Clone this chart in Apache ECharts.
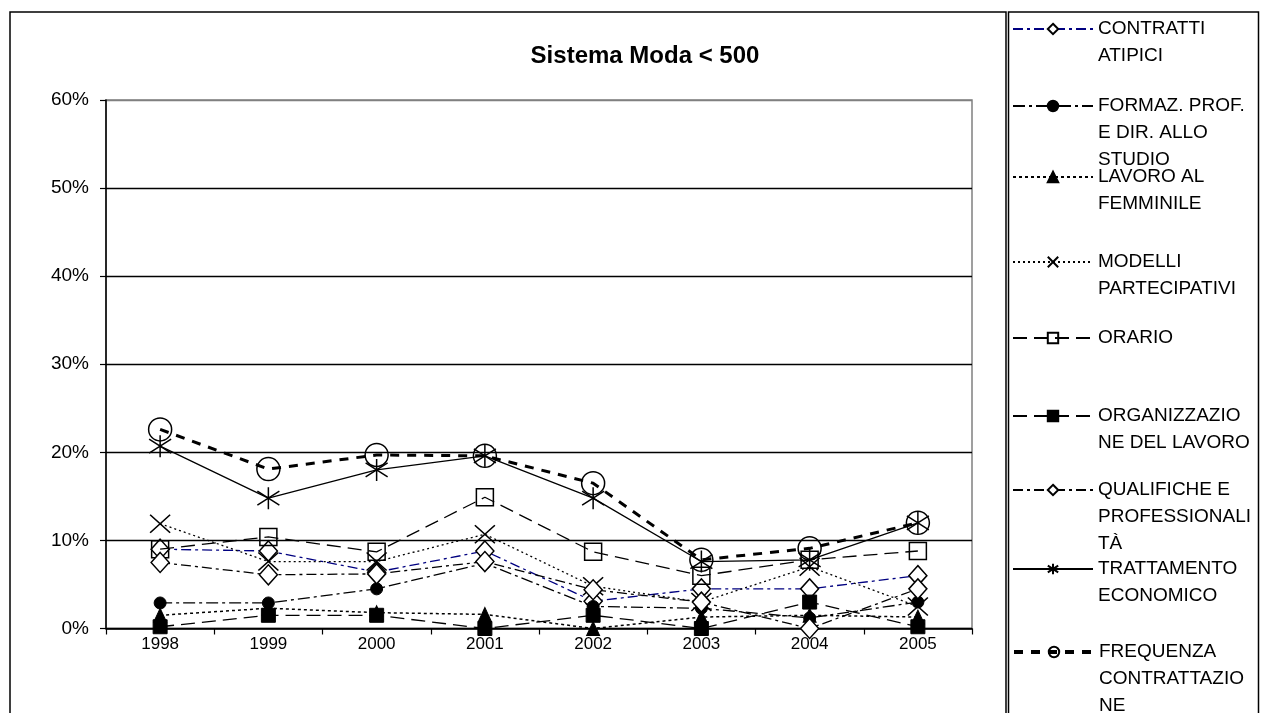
<!DOCTYPE html>
<html><head><meta charset="utf-8">
<script src="https://cdn.jsdelivr.net/npm/echarts@6/dist/echarts.min.js"></script>
<style>html,body{margin:0;padding:0;background:#fff}#c{width:1262px;height:713px}</style>
</head><body><div id="c"></div>
<script>
// ---- data (percent values) ----
const years = ['1998', '1999', '2000', '2001', '2002', '2003', '2004', '2005'];
const yTickValues = [0, 10, 20, 30, 40, 50, 60];
const contrattiAtipici = [9.0, 8.8, 6.4, 8.8, 3.1, 4.5, 4.5, 6.0];
const formazProf = [2.9, 2.9, 4.5, 7.4, 2.5, 2.3, 1.2, 3.0];
const lavoroFemminile = [1.5, 2.3, 1.8, 1.6, 0.0, 1.3, 1.5, 1.3];
const modelliPartecipativi = [11.9, 7.6, 7.6, 10.7, 4.8, 3.0, 7.0, 2.5];
const orario = [9.0, 10.4, 8.7, 14.9, 8.7, 6.0, 7.8, 8.8];
const organizzazioneLavoro = [0.2, 1.5, 1.5, 0.0, 1.5, 0.0, 3.0, 0.2];
const qualifiche = [7.5, 6.1, 6.2, 7.6, 4.4, 3.0, 0.0, 4.5];
const trattamentoEconomico = [20.7, 14.8, 18.0, 19.6, 14.8, 7.6, 7.8, 12.0];
const frequenzaContrattazione = [22.6, 18.1, 19.7, 19.6, 16.5, 7.8, 9.1, 12.0];
const seriesNames = ['CONTRATTI ATIPICI', 'FORMAZ. PROF. E DIR. ALLO STUDIO', 'LAVORO AL FEMMINILE',
  'MODELLI PARTECIPATIVI', 'ORARIO', 'ORGANIZZAZIONE DEL LAVORO', 'QUALIFICHE E PROFESSIONALITÀ',
  'TRATTAMENTO ECONOMICO', 'FREQUENZA CONTRATTAZIONE'];
const legendLabels = [
  ['CONTRATTI', 'ATIPICI'],
  ['FORMAZ. PROF.', 'E DIR. ALLO', 'STUDIO'],
  ['LAVORO AL', 'FEMMINILE'],
  ['MODELLI', 'PARTECIPATIVI'],
  ['ORARIO'],
  ['ORGANIZZAZIO', 'NE DEL LAVORO'],
  ['QUALIFICHE E', 'PROFESSIONALI', 'TÀ'],
  ['TRATTAMENTO', 'ECONOMICO'],
  ['FREQUENZA', 'CONTRATTAZIO', 'NE']
];
const titleText = 'Sistema Moda < 500';

// ---- styles ----
const FONT = 'Arial, "Liberation Sans", sans-serif';
const BLACK = '#000';
const T = 'rgba(0,0,0,0)';
const X_PATH = 'path://M0,0L20,18M0,18L20,0';
const STAR_PATH = 'path://M11,0L11,22M0,4L22,18M0,18L22,4';
const styles = [
  {data: contrattiAtipici, color: '#000080', type: [10,4,3,4], width: 1.3, symbol: 'diamond', size: [18,20], fill: '#fff', bw: 1.5},
  {data: formazProf, color: BLACK, type: [12,4,3,4], width: 1.3, symbol: 'circle', size: 12, fill: BLACK, bw: 1},
  {data: lavoroFemminile, color: BLACK, type: [3,3], width: 1.5, symbol: 'triangle', size: [13,14], fill: BLACK, bw: 1},
  {data: modelliPartecipativi, color: BLACK, type: [2,3], width: 1.3, symbol: X_PATH, size: [20,18], fill: BLACK, bw: 1.5},
  {data: orario, color: BLACK, type: [14,7], width: 1.3, symbol: 'rect', size: 17, fill: T, bw: 1.5},
  {data: organizzazioneLavoro, color: BLACK, type: [14,7], width: 1.3, symbol: 'rect', size: 14, fill: BLACK, bw: 1},
  {data: qualifiche, color: BLACK, type: [10,4,3,4], width: 1.3, symbol: 'diamond', size: [18,20], fill: '#fff', bw: 1.5},
  {data: trattamentoEconomico, color: BLACK, type: 'solid', width: 1.3, symbol: STAR_PATH, size: [22,22], fill: BLACK, bw: 1.5},
  {data: frequenzaContrattazione, color: BLACK, type: [9,8], width: 3, symbol: 'circle', size: 23, fill: T, bw: 1.5}
];

const series = styles.map((s, i) => ({
  name: seriesNames[i],
  type: 'line',
  data: s.data,
  symbol: s.symbol,
  symbolSize: s.size,
  showAllSymbol: true,
  lineStyle: {color: s.color, width: s.width, type: s.type},
  itemStyle: {color: s.fill, borderColor: BLACK, borderWidth: s.bw},
  emphasis: {disabled: true},
  z: 2 + i
}));

const LH = 27;
const iconCenters = [29, 106, 177, 262, 338, 416, 490, 569, 652];
const ITEM_H = 13;
const legends = legendLabels.map((lines, i) => {
  const n = lines.length;
  return {
    data: [seriesNames[i]],
    orient: 'vertical',
    left: 1012,
    top: iconCenters[i] - (2 * n - 1) * LH / 2,
    padding: 0,
    itemWidth: 80,
    itemHeight: ITEM_H,
    selectedMode: false,
    formatter: () => '\n'.repeat(n - 1) + lines.join('\n'),
    lineStyle: {width: i === 8 ? 4 : 2},
    textStyle: {fontFamily: FONT, fontSize: 19, color: BLACK, lineHeight: LH}
  };
});

const chart = echarts.init(document.getElementById('c'), null, {renderer: 'canvas'});
chart.setOption({
  backgroundColor: '#fff',
  animation: false,
  title: {text: titleText, left: 640, top: 39, textAlign: 'center',
    textStyle: {fontFamily: FONT, fontSize: 24, fontWeight: 'bold', color: BLACK}},
  legend: legends,
  grid: {left: 106, right: 290, top: 100, bottom: 84.5, show: true, borderColor: '#808080', borderWidth: 1.5, backgroundColor: T},
  xAxis: {
    type: 'category', data: years, boundaryGap: true,
    axisLine: {lineStyle: {color: BLACK, width: 1.5}},
    axisTick: {show: true, length: 6, inside: false, alignWithLabel: false, lineStyle: {color: BLACK, width: 1.2}},
    axisLabel: {color: BLACK, fontFamily: FONT, fontSize: 17, margin: 7},
    splitLine: {show: false}
  },
  yAxis: {
    type: 'value', min: yTickValues[0], max: yTickValues[yTickValues.length - 1], interval: 10,
    axisLine: {show: true, lineStyle: {color: BLACK, width: 1.5}},
    axisTick: {show: true, length: 6, inside: false, lineStyle: {color: BLACK, width: 1.2}},
    axisLabel: {color: BLACK, fontFamily: FONT, fontSize: 19, margin: 17, formatter: '{value}%'},
    splitLine: {show: true, lineStyle: {color: ['#000', '#000', '#000', '#000', '#000', '#000', '#808080'], width: 1.3}}
  },
  graphic: [
    {type: 'rect', shape: {x: 10, y: 12, width: 996, height: 760}, style: {fill: 'none', stroke: BLACK, lineWidth: 1.5}, silent: true, z: -1},
    {type: 'rect', shape: {x: 1008.5, y: 12, width: 250, height: 760}, style: {fill: 'none', stroke: BLACK, lineWidth: 1.5}, silent: true, z: -1}
  ],
  series: series
});
</script></body></html>
